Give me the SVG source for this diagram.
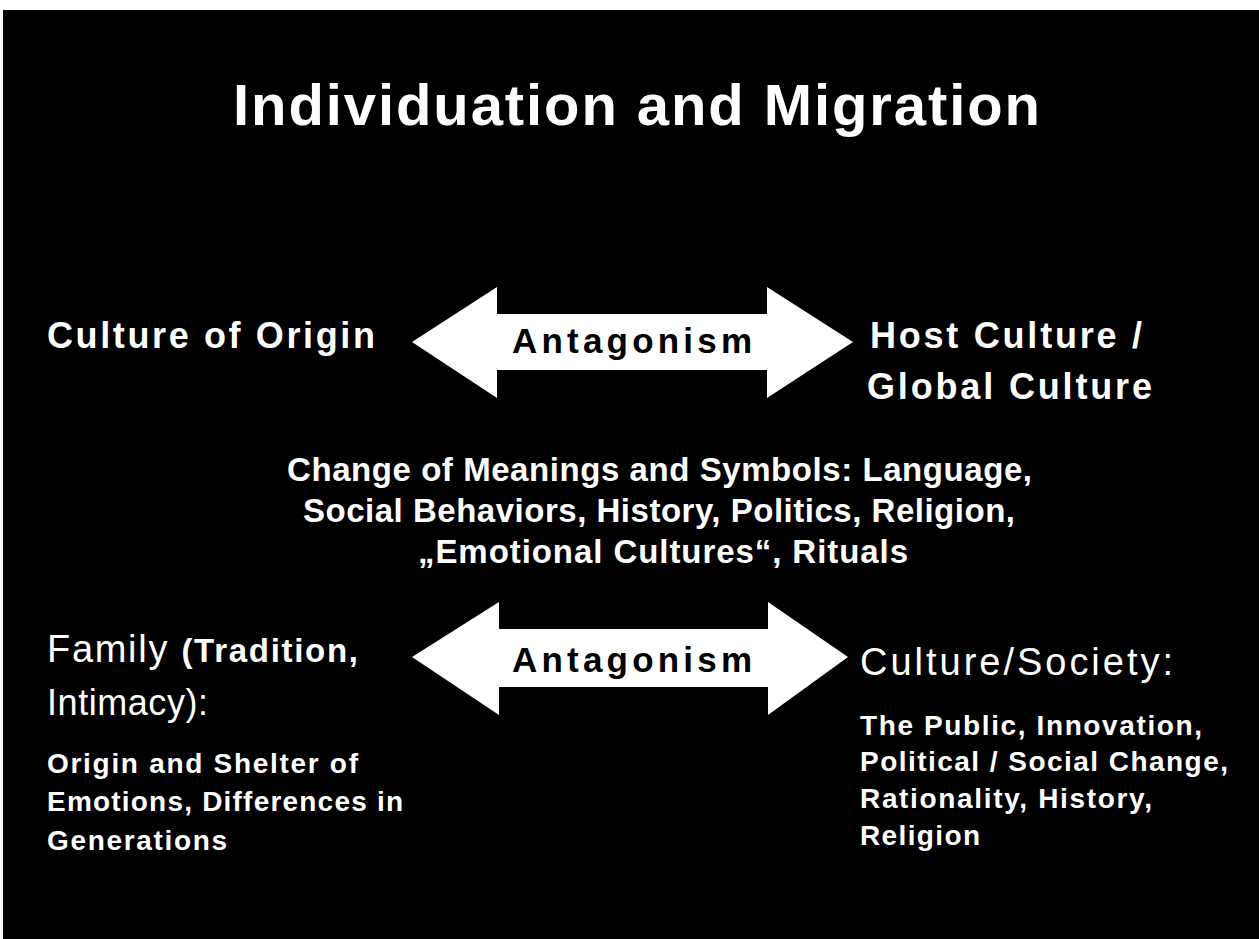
<svg xmlns="http://www.w3.org/2000/svg" width="1259" height="939" viewBox="0 0 1259 939">
<style>
text { font-family: "Liberation Sans", Arial, sans-serif; fill: #fff; }
.b { font-weight: bold; }
.title { font-size: 58px; font-weight: bold; }
.big { font-size: 36px; font-weight: bold; }
.mid { font-size: 33px; font-weight: bold; }
.small { font-size: 28px; font-weight: bold; }
.lbl { font-size: 35px; font-weight: bold; fill: #000; }
.arrow { fill: #fff; }
</style>
<rect x="0" y="0" width="1259" height="939" fill="#fff"/>
<rect x="3" y="10" width="1256" height="929" fill="#000"/>
<g id="title">
<text class="title" x="233" y="125" textLength="807" lengthAdjust="spacing">Individuation and Migration</text>
</g>
<g id="connectors">
<g id="arrow-top">
<polygon class="arrow" points="412,342 497,287 497,314 767,314 767,287 853,342 767,398 767,370 497,370 497,398"/>
<text class="lbl" x="512" y="353" textLength="240" lengthAdjust="spacing">Antagonism</text>
</g>
<g id="arrow-bottom">
<polygon class="arrow" points="412,657 499,602 499,629 768,629 768,602 848,657 768,715 768,687 499,687 499,715"/>
<text class="lbl" x="512" y="672" textLength="240" lengthAdjust="spacing">Antagonism</text>
</g>
</g>
<g id="culture-of-origin">
<text class="big" x="47" y="348" textLength="328" lengthAdjust="spacing">Culture of Origin</text>
</g>
<g id="host-culture">
<text class="big" x="870" y="348" textLength="272" lengthAdjust="spacing">Host Culture /</text>
<text class="big" x="867" y="399" textLength="285" lengthAdjust="spacing">Global Culture</text>
</g>
<g id="change-of-meanings">
<text class="mid" x="287" y="481" textLength="745" lengthAdjust="spacing">Change of Meanings and Symbols: Language,</text>
<text class="mid" x="303" y="522" textLength="712" lengthAdjust="spacing">Social Behaviors, History, Politics, Religion,</text>
<text class="mid" x="418" y="563" textLength="490" lengthAdjust="spacing">„Emotional Cultures“, Rituals</text>
</g>
<g id="family">
<text x="47" y="662" textLength="311" lengthAdjust="spacing"><tspan style="font-size:38px">Family </tspan><tspan class="b" style="font-size:33px">(Tradition,</tspan></text>
<text style="font-size:36px" x="47" y="715" textLength="161" lengthAdjust="spacing">Intimacy):</text>
<text class="small" x="47" y="773" textLength="311" lengthAdjust="spacing">Origin and Shelter of</text>
<text class="small" x="47" y="811" textLength="356" lengthAdjust="spacing">Emotions, Differences in</text>
<text class="small" x="47" y="850" textLength="180" lengthAdjust="spacing">Generations</text>
</g>
<g id="culture-society">
<text class="big" style="font-weight:normal;font-size:38px" x="860" y="675" textLength="313" lengthAdjust="spacing">Culture/Society:</text>
<text class="small" x="860" y="735" textLength="342" lengthAdjust="spacing">The Public, Innovation,</text>
<text class="small" x="860" y="771" textLength="368" lengthAdjust="spacing">Political / Social Change,</text>
<text class="small" x="860" y="808" textLength="292" lengthAdjust="spacing">Rationality, History,</text>
<text class="small" x="860" y="845" textLength="120" lengthAdjust="spacing">Religion</text>
</g>
</svg>
